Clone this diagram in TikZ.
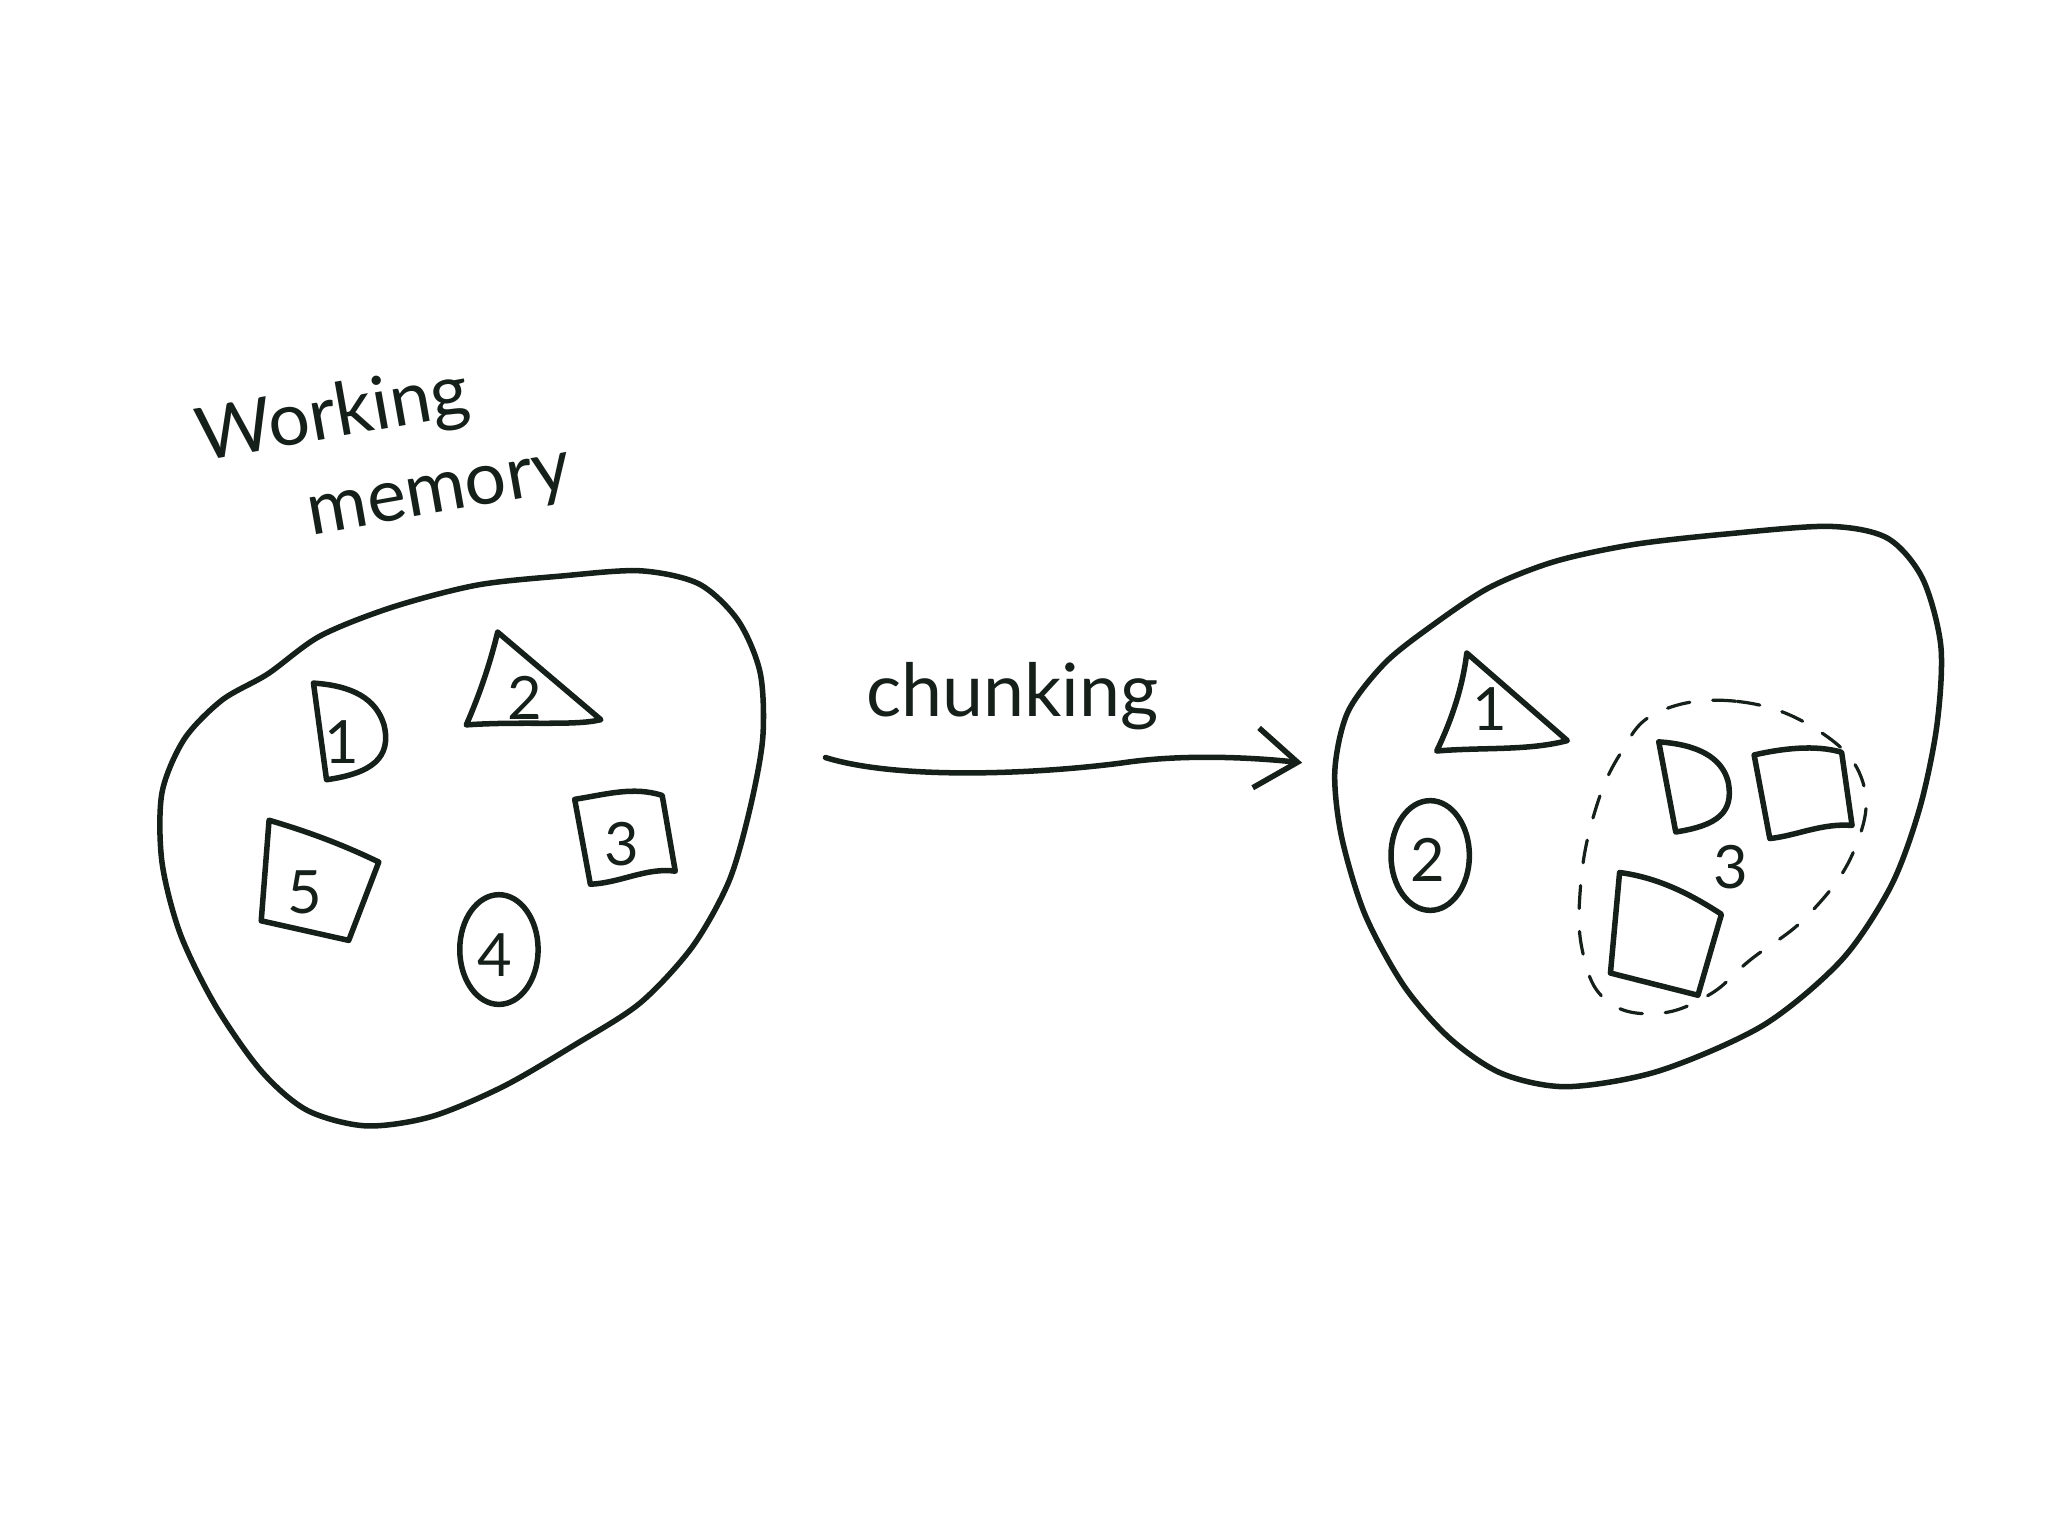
\documentclass[tikz,border=0pt]{standalone}
\usepackage{fontspec}
\setmainfont{Lato}
\usetikzlibrary{arrows.meta,positioning,calc}
\definecolor{ink}{HTML}{16201A}

\begin{document}
\begin{tikzpicture}[x=0.01cm,y=-0.01cm,
    sketch/.style={draw=ink,line width=1.2pt,line join=round,line cap=round},
    chunkline/.style={draw=ink,line width=0.7pt,line cap=round,dash pattern=on 5pt off 5pt},
    num/.style={text=ink,inner sep=0pt,font=\fontsize{13}{13}\selectfont},
    hand/.style={text=ink,inner sep=0pt,font=\fontsize{16}{16}\selectfont}]
  \useasboundingbox (0,0) rectangle (1568,1176);
  % Title
  \node[hand,rotate=10,align=left] (wm) at (294,348) {Working\\[4pt]\hspace{1.3em}memory};
  % Left blob: working memory before chunking
  \draw[sketch] plot[smooth cycle,tension=0.5] coordinates {
    (205,516) (245,487) (300,465) (365,448) (430,441) (490,437) (535,447)
    (565,475) (582,515) (584,565) (574,620) (558,675) (530,725) (490,768)
    (440,800) (385,832) (330,855) (280,862) (235,850) (200,820) (165,770)
    (138,715) (124,660) (124,607) (141,566) (170,536)};
  % Items
  \draw[sketch] (240,523) -- (250,597) .. controls (285,592) and (300,580) .. (294,555)
    .. controls (288,535) and (270,525) .. (240,523);
  \node[num] (one) at (262,568) {1};
  \draw[sketch] (381,484) -- (460,551) .. controls (440,556) and (400,552) .. (357,555)
    .. controls (368,530) and (376,505) .. (381,484);
  \node[num] (two) at (402,534) {2};
  \draw[sketch] (440,612) .. controls (465,608) and (485,602) .. (507,609)
    -- (517,667) .. controls (495,664) and (475,676) .. (452,677) -- cycle;
  \node[num] (three) at (476,646) {3};
  \draw[sketch] (382,727) ellipse[x radius=30,y radius=42];
  \node[num] (four) at (379,731) {4};
  \draw[sketch] (206,628) .. controls (240,638) and (265,648) .. (290,660)
    -- (267,720) -- (200,705) -- cycle;
  \node[num] (five) at (233,683) {5};
  % Chunking arrow
  \coordinate (from) at (632,580);
  \coordinate (to) at (997,584);
  \draw[sketch,-{Straight Barb[length=3.2mm,width=4.6mm]}] (from)
    .. controls (690,598) and (800,592) .. (860,584)
    .. controls (900,578) and (950,579) .. (to);
  \node[hand] (chunking) at (775,533) {chunking};
  % Right blob: after chunking
  \draw[sketch] plot[smooth cycle,tension=0.5] coordinates {
    (1095,480) (1140,450) (1190,430) (1250,417) (1320,409) (1400,403)
    (1445,412) (1472,443) (1486,495) (1483,555) (1470,618) (1448,678)
    (1410,735) (1350,785) (1270,820) (1200,832) (1150,822) (1110,795)
    (1075,755) (1045,700) (1027,640) (1022,590) (1032,545) (1060,508)};
  \draw[sketch] (1123,500) -- (1200,567) .. controls (1170,575) and (1135,572) .. (1100,575)
    .. controls (1112,550) and (1120,525) .. (1123,500);
  \node[num] (rone) at (1141,543) {1};
  \draw[sketch] (1095,655) ellipse[x radius=30,y radius=42];
  \node[num] (rtwo) at (1093,658) {2};
  % The chunk
  \draw[chunkline] plot[smooth cycle,tension=0.7] coordinates {
    (1270,545) (1330,537) (1390,558) (1426,598) (1420,650) (1385,700)
    (1340,735) (1308,762) (1268,776) (1230,766) (1212,730) (1210,680)
    (1220,625) (1240,578)};
  \draw[sketch] (1270,568) -- (1283,637) .. controls (1315,632) and (1328,622) .. (1323,598)
    .. controls (1318,580) and (1300,570) .. (1270,568);
  \draw[sketch] (1343,578) .. controls (1365,573) and (1390,570) .. (1410,576)
    -- (1418,632) .. controls (1395,630) and (1375,640) .. (1355,642) -- cycle;
  \draw[sketch] (1240,668) .. controls (1270,672) and (1295,685) .. (1318,700)
    -- (1300,762) -- (1233,745) -- cycle;
  \node[num] (rthree) at (1325,664) {3};
\end{tikzpicture}
\end{document}
